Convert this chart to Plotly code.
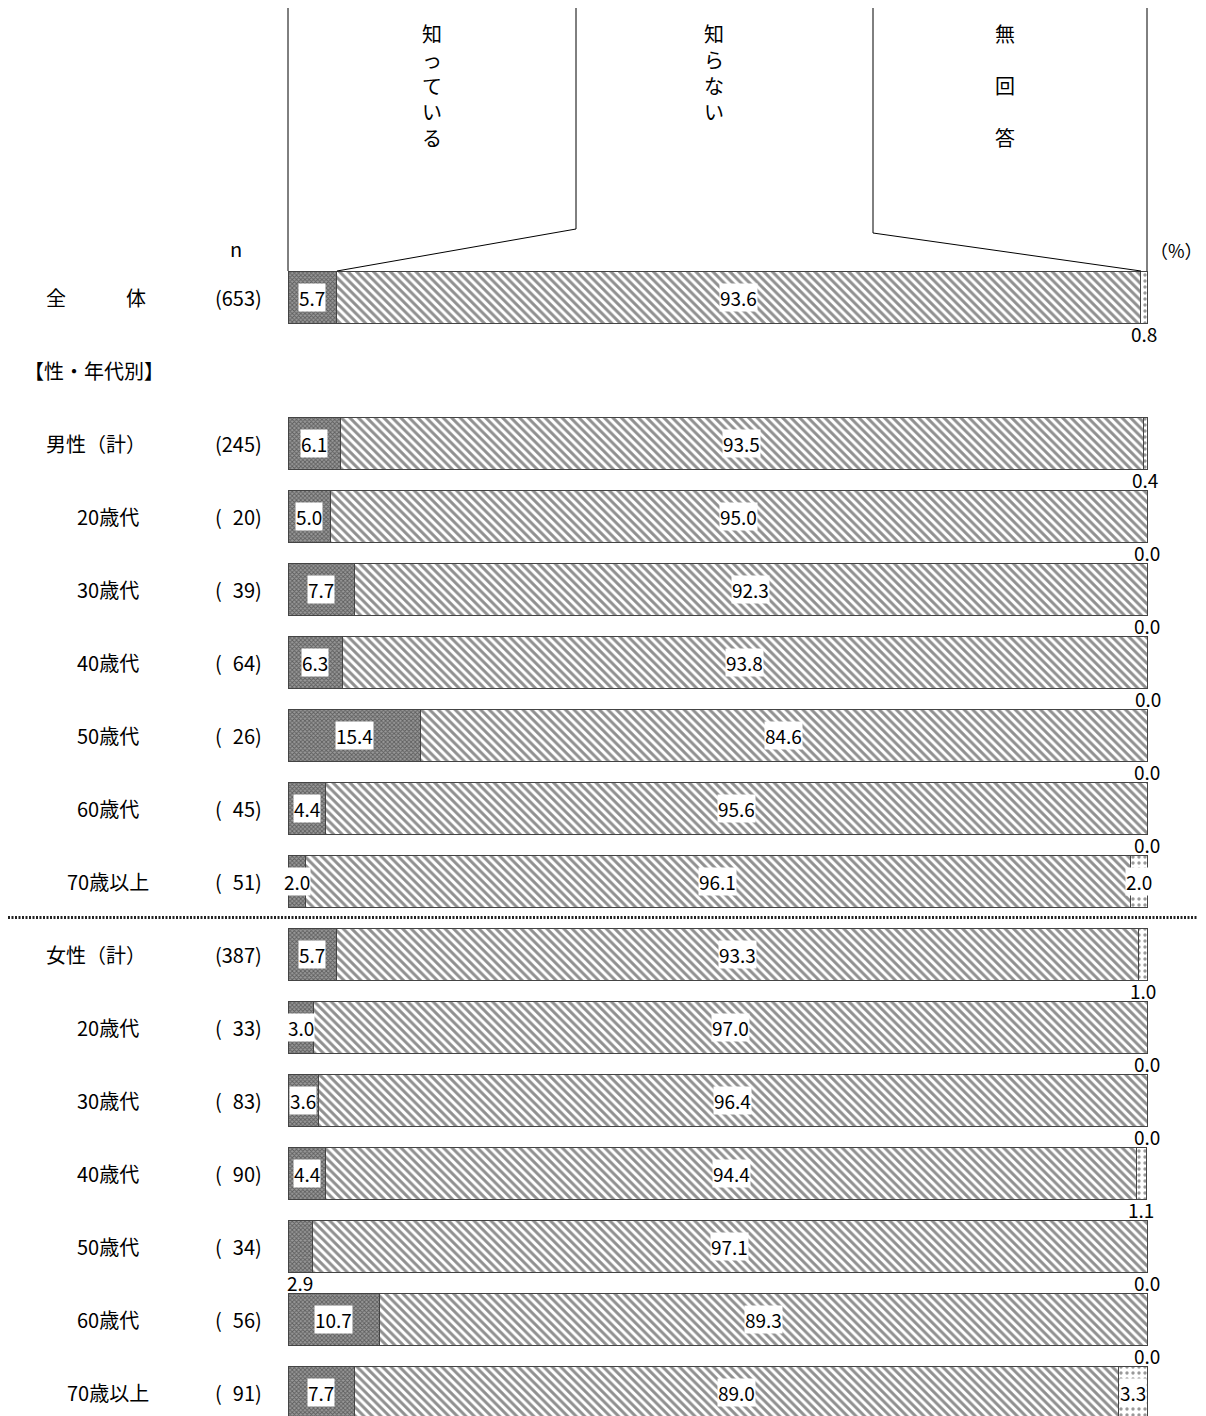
import plotly.graph_objects as go

# rows of the chart (top to bottom); slot 1 is the 【性・年代別】 header
row_labels = ["全　　　体", "男性（計）", "20歳代", "30歳代", "40歳代", "50歳代", "60歳代", "70歳以上",
              "女性（計）", "20歳代", "30歳代", "40歳代", "50歳代", "60歳代", "70歳以上"]
row_kind = ["total", "group", "sub", "sub", "sub", "sub", "sub", "sub",
            "group", "sub", "sub", "sub", "sub", "sub", "sub"]
n_values = [653, 245, 20, 39, 64, 26, 45, 51, 387, 33, 83, 90, 34, 56, 91]

knows = [5.7, 6.1, 5.0, 7.7, 6.3, 15.4, 4.4, 2.0, 5.7, 3.0, 3.6, 4.4, 2.9, 10.7, 7.7]
not_know = [93.6, 93.5, 95.0, 92.3, 93.8, 84.6, 95.6, 96.1, 93.3, 97.0, 96.4, 94.4, 97.1, 89.3, 89.0]
no_answer = [0.8, 0.4, 0.0, 0.0, 0.0, 0.0, 0.0, 2.0, 1.0, 0.0, 0.0, 1.1, 0.0, 0.0, 3.3]

series_names = ["知っている", "知らない", "無回答"]
header_text = ["知<br>っ<br>て<br>い<br>る", "知<br>ら<br>な<br>い", "無<br><br>回<br><br>答"]

JP = "Noto Sans CJK JP"
PAGE_W, PAGE_H = 1206, 1416
OFF = 8                       # page body margin
W, H = PAGE_W - OFF, PAGE_H - OFF
X0, X100 = 288, 1147          # pixel span of 0..100 % (page coordinates)
Y0, STEP = 297, 73            # pixel centre of first row, row pitch
BAR_W = 52 / STEP


def px_x(p):
    return (p - X0) / ((X100 - X0) / 100)


def px_y(p):
    return (p - Y0) / STEP


# slot positions: header takes slot 1
slots = [0] + list(range(2, len(row_labels) + 1))

fig = go.Figure()
patterns = [
    dict(shape="x", size=3, solidity=0.5, fgcolor="#222", bgcolor="#999"),
    dict(shape="\\", size=6, solidity=0.5, fgcolor="#222", bgcolor="white"),
    dict(shape=".", size=6, solidity=0.25, fgcolor="#333", bgcolor="white"),
]
for name, vals, pat in zip(series_names, [knows, not_know, no_answer], patterns):
    fig.add_trace(go.Bar(
        x=vals, y=slots, orientation="h", name=name, width=BAR_W,
        marker=dict(color="white", pattern=pat, line=dict(color="#444", width=1)),
        hoverinfo="skip", showlegend=False,
    ))

ann = []
num_font = dict(family=JP, size=19, color="black")
lab_font = dict(family=JP, size=20, color="black")
below_knows = {12}  # 女性 50歳代: label drawn under the bar
for i, s in enumerate(slots):
    k, m, a = knows[i], not_know[i], no_answer[i]
    # 知っている
    if i in below_knows:
        ann.append(dict(x=k / 2, y=s + 0.5, text=f"{k:.1f}", showarrow=False, font=num_font))
    else:
        ann.append(dict(x=k / 2, y=s, text=f"{k:.1f}", showarrow=False, font=num_font,
                        bgcolor="white", borderpad=0))
    # 知らない
    ann.append(dict(x=k + m / 2, y=s, text=f"{m:.1f}", showarrow=False, font=num_font,
                    bgcolor="white", borderpad=0))
    # 無回答
    if a >= 2:
        ann.append(dict(x=k + m + a / 2, y=s, text=f"{a:.1f}", showarrow=False, font=num_font,
                        bgcolor="white", borderpad=0))
    else:
        ann.append(dict(x=k + m + a / 2, y=s + 0.5, text=f"{a:.1f}", showarrow=False, font=num_font))

    # row labels
    if row_kind[i] == "sub":
        ann.append(dict(x=px_x(108), y=s, text=row_labels[i], showarrow=False, font=lab_font))
    else:
        ann.append(dict(x=px_x(148), y=s, text=row_labels[i], showarrow=False, font=lab_font,
                        xanchor="right"))
    n_txt = "(" + str(n_values[i]).rjust(3, "\u2007") + ")"
    ann.append(dict(x=px_x(264), y=s, text=n_txt, showarrow=False, xanchor="right", font=lab_font))

ann.append(dict(x=px_x(22), y=1, text="【性・年代別】", showarrow=False, xanchor="left", font=lab_font))
ann.append(dict(x=px_x(236), y=px_y(248), text="n", showarrow=False, font=lab_font))
ann.append(dict(x=px_x(1176), y=px_y(250), text="（%）", showarrow=False,
                font=dict(family=JP, size=18, color="black")))

# header boxes with leader lines to the 全体 bar
bar_top = -BAR_W / 2
top = px_y(8)
box_edges = [px_x(576), px_x(873)]
box_bottoms = [px_y(229), px_y(233)]
cum = [knows[0], knows[0] + not_know[0]]
line = dict(color="black", width=1)
shapes = [
    dict(type="line", x0=0, x1=0, y0=top, y1=bar_top, line=line),
    dict(type="line", x0=100, x1=100, y0=top, y1=bar_top, line=line),
]
for xe, yb, c in zip(box_edges, box_bottoms, cum):
    shapes.append(dict(type="line", x0=xe, x1=xe, y0=top, y1=yb, line=line))
    shapes.append(dict(type="line", x0=xe, x1=c, y0=yb, y1=bar_top, line=line))

centers = [(0 + box_edges[0]) / 2, px_x(714), px_x(1005)]
for cx, t in zip(centers, header_text):
    ann.append(dict(x=cx, y=px_y(17), text=t, showarrow=False, yanchor="top",
                    font=dict(family=JP, size=20, color="black")))

# dotted separator between 男性 and 女性 blocks
sep_y = (slots[7] + slots[8]) / 2
shapes.append(dict(type="line", x0=px_x(OFF), x1=px_x(PAGE_W), y0=sep_y, y1=sep_y,
                   line=dict(color="#222", width=3, dash="2px,1.5px")))

fig.update_layout(
    barmode="stack", width=W, height=H,
    margin=dict(l=0, r=0, t=0, b=0),
    plot_bgcolor="white", paper_bgcolor="white",
    xaxis=dict(range=[px_x(OFF), px_x(PAGE_W)], visible=False, fixedrange=True),
    yaxis=dict(range=[px_y(PAGE_H), px_y(OFF)], visible=False, fixedrange=True),
    annotations=ann, shapes=shapes,
)

fig.write_html("out.html")
